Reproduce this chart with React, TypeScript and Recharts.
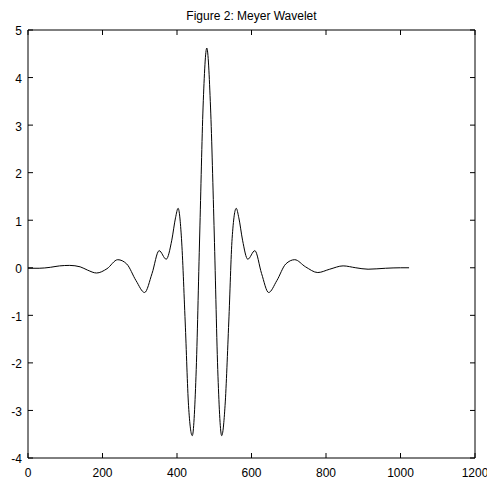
import React from "react";
import { LineChart, Line, XAxis, YAxis, ReferenceLine } from "recharts";

const xValues = [
  0, 30, 60, 85, 112, 140, 160, 184, 212, 241, 265, 290, 313, 333, 352, 371,
  386, 396, 403, 412, 422, 431, 441, 451, 461, 470, 480, 490, 500, 510, 520,
  529, 539, 548, 559, 566, 576, 590, 609, 627, 646, 668, 692, 716, 745, 778,
  810, 846, 880, 913, 960, 1000, 1023,
];
const yValues = [
  -0.01, -0.01, 0.01, 0.04, 0.05, 0.02, -0.05, -0.11, -0.02, 0.17, 0.08, -0.27,
  -0.52, -0.12, 0.36, 0.18, 0.58, 1.05, 1.25, 0.62, -1.14, -2.9, -3.53, -2.28,
  0.71, 3.38, 4.62, 3.38, 0.71, -2.28, -3.53, -2.9, -1.14, 0.62, 1.25, 1.05,
  0.58, 0.18, 0.36, -0.12, -0.52, -0.27, 0.08, 0.17, 0.02, -0.1, -0.03, 0.04,
  0.0, -0.03, -0.01, 0.0, 0.0,
];
const xTicks = [0, 200, 400, 600, 800, 1000, 1200];
const yTicks = [-4, -3, -2, -1, 0, 1, 2, 3, 4, 5];
const title = "Figure 2: Meyer Wavelet";

const data = xValues.map((x, i) => ({ x, y: yValues[i] }));

const FONT = '"Liberation Sans", Arial, Helvetica, sans-serif';
const W = 487;
const H = 480;
const M = { top: 30, right: 12, bottom: 0, left: 0 };
const Y_AXIS_W = 28;
const X_AXIS_H = 22;
const PLOT_W = W - M.left - M.right - Y_AXIS_W;
const PLOT_H = H - M.top - M.bottom - X_AXIS_H;
const TICK_LEN = 5;
const X_MARGIN = 10;
const Y_MARGIN = 6;

const BottomTick = (props: any) => {
  const { x, y, payload } = props;
  const axisY = y - X_MARGIN;
  const topY = axisY - PLOT_H;
  return (
    <g>
      <line x1={x} x2={x} y1={axisY} y2={axisY - TICK_LEN} stroke="#000" />
      <line x1={x} x2={x} y1={topY} y2={topY + TICK_LEN} stroke="#000" />
      <text x={x} y={y} dy="0.71em" textAnchor="middle" fontSize={12} fontFamily={FONT} fill="#000">
        {payload.value}
      </text>
    </g>
  );
};

const LeftTick = (props: any) => {
  const { x, y, payload } = props;
  const axisX = x + Y_MARGIN;
  const rightX = axisX + PLOT_W;
  return (
    <g>
      <line x1={axisX} x2={axisX + TICK_LEN} y1={y} y2={y} stroke="#000" />
      <line x1={rightX - TICK_LEN} x2={rightX} y1={y} y2={y} stroke="#000" />
      <text x={x} y={y} dy="0.45em" textAnchor="end" fontSize={12} fontFamily={FONT} fill="#000">
        {payload.value}
      </text>
    </g>
  );
};

export default function App() {
  return (
    <div style={{ position: "absolute", left: 0, top: 0, width: W, height: H, overflow: "hidden" }}>
      <div
        style={{
          position: "absolute",
          left: M.left + Y_AXIS_W,
          width: PLOT_W,
          top: 9,
          textAlign: "center",
          fontFamily: FONT,
          fontSize: 12,
          color: "#000",
        }}
      >
        {title}
      </div>
      <LineChart width={W} height={H} data={data} margin={M}>
        <XAxis
          dataKey="x"
          type="number"
          domain={[0, 1200]}
          ticks={xTicks}
          height={X_AXIS_H}
          tickSize={0}
          tickMargin={X_MARGIN}
          tick={<BottomTick />}
          axisLine={{ stroke: "#000" }}
          interval={0}
        />
        <YAxis
          type="number"
          domain={[-4, 5]}
          ticks={yTicks}
          width={Y_AXIS_W}
          tickSize={0}
          tickMargin={Y_MARGIN}
          tick={<LeftTick />}
          axisLine={{ stroke: "#000" }}
          interval={0}
        />
        <ReferenceLine y={5} stroke="#000" ifOverflow="visible" />
        <ReferenceLine x={1200} stroke="#000" ifOverflow="visible" />
        <Line
          dataKey="y"
          type="monotone"
          stroke="#000"
          strokeWidth={1}
          dot={false}
          isAnimationActive={false}
        />
      </LineChart>
    </div>
  );
}
